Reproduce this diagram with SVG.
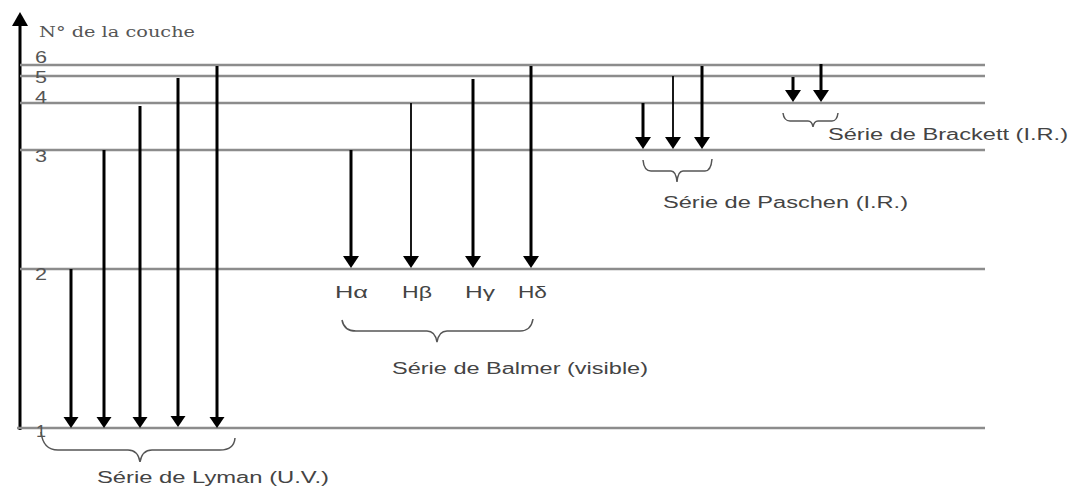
<svg xmlns="http://www.w3.org/2000/svg" width="1072" height="488" viewBox="0 0 1072 488">
  <style>
    .level { stroke: #8c8c8c; stroke-width: 2.4; fill: none; }
    .axis { stroke: #000; stroke-width: 3; fill: none; }
    .tr { stroke: #000; stroke-width: 3; fill: none; }
    .tr.thin { stroke-width: 1.8; }
    .brace { stroke: #555; stroke-width: 1.5; fill: none; }
    .lbl { font-family: "Liberation Sans", Arial, sans-serif; font-size: 16px; fill: #444; }
    .num { font-family: "Liberation Sans", Arial, sans-serif; font-size: 16px; fill: #555; }
    .title { font-family: "DejaVu Serif", "Liberation Serif", serif; font-size: 14px; fill: #555; }
  </style>
  <defs>
    <marker id="head" markerUnits="userSpaceOnUse" viewBox="0 -8 12 16" refX="0" refY="0" markerWidth="12" markerHeight="16" orient="auto">
      <path d="M0,-7.5 L11,0 L0,7.5 Z" fill="#000"/>
    </marker>
    <marker id="headL" markerUnits="userSpaceOnUse" viewBox="0 -9 13 18" refX="0" refY="0" markerWidth="13" markerHeight="18" orient="auto">
      <path d="M0,-8 L12,0 L0,8 Z" fill="#000"/>
    </marker>
  </defs>

  <rect width="1072" height="488" fill="#fff"/>

  <!-- energy axis -->
  <g id="axis">
    <line class="axis" x1="20" y1="430" x2="20" y2="24"/>
    <polygon points="20,12 12,26 28,26" fill="#000"/>
    <text class="title" x="39" y="37" textLength="156" lengthAdjust="spacingAndGlyphs">N° de la couche</text>
  </g>

  <!-- energy levels -->
  <g id="levels">
    <line class="level" x1="20" y1="65" x2="985" y2="65"/>
    <line class="level" x1="20" y1="76" x2="985" y2="76"/>
    <line class="level" x1="20" y1="103" x2="985" y2="103"/>
    <line class="level" x1="20" y1="150" x2="985" y2="150"/>
    <line class="level" x1="20" y1="269" x2="985" y2="269"/>
    <line class="level" x1="17" y1="428" x2="985" y2="428"/>
    <text class="num" x="35" y="63" textLength="12" lengthAdjust="spacingAndGlyphs">6</text>
    <text class="num" x="35" y="83" textLength="12" lengthAdjust="spacingAndGlyphs">5</text>
    <text class="num" x="35" y="103" textLength="12" lengthAdjust="spacingAndGlyphs">4</text>
    <text class="num" x="35" y="162" textLength="12" lengthAdjust="spacingAndGlyphs">3</text>
    <text class="num" x="35" y="280" textLength="12" lengthAdjust="spacingAndGlyphs">2</text>
    <text class="num" x="36" y="437" textLength="10" lengthAdjust="spacingAndGlyphs">1</text>
  </g>

  <!-- transitions -->
  <g id="connectors">
    <!-- Lyman -->
    <line class="tr" x1="71" y1="269" x2="71" y2="417" marker-end="url(#head)"/>
    <line class="tr" x1="104" y1="150" x2="104" y2="417" marker-end="url(#head)"/>
    <line class="tr" x1="140" y1="106" x2="140" y2="417" marker-end="url(#head)"/>
    <line class="tr" x1="178" y1="78" x2="178" y2="416" marker-end="url(#head)"/>
    <line class="tr" x1="217" y1="66" x2="217" y2="417" marker-end="url(#head)"/>
    <!-- Balmer -->
    <line class="tr" x1="351" y1="150" x2="351" y2="256" marker-end="url(#headL)"/>
    <line class="tr thin" x1="411" y1="103" x2="411" y2="256" marker-end="url(#headL)"/>
    <line class="tr" x1="473" y1="79" x2="473" y2="256" marker-end="url(#headL)"/>
    <line class="tr" x1="531" y1="66" x2="531" y2="256" marker-end="url(#headL)"/>
    <!-- Paschen -->
    <line class="tr" x1="643" y1="103" x2="643" y2="137" marker-end="url(#headL)"/>
    <line class="tr thin" x1="673" y1="76" x2="673" y2="137" marker-end="url(#headL)"/>
    <line class="tr" x1="702" y1="66" x2="702" y2="137" marker-end="url(#headL)"/>
    <!-- Brackett -->
    <line class="tr" x1="793" y1="77" x2="793" y2="90" marker-end="url(#headL)"/>
    <line class="tr" x1="821" y1="64" x2="821" y2="90" marker-end="url(#headL)"/>
  </g>

  <g id="lyman">
    <path class="brace" d="M41,432 Q43,450 58,450 L128,450 Q138,450 140,462 Q142,450 152,450 L220,450 Q234,450 235,438"/>
    <text class="lbl" x="97" y="483" textLength="232" lengthAdjust="spacingAndGlyphs">Série de Lyman (U.V.)</text>
  </g>

  <g id="balmer">
    <text class="lbl" x="335" y="298" textLength="33" lengthAdjust="spacingAndGlyphs">Hα</text>
    <text class="lbl" x="402" y="298" textLength="30" lengthAdjust="spacingAndGlyphs">Hβ</text>
    <text class="lbl" x="465" y="298" textLength="30" lengthAdjust="spacingAndGlyphs">Hγ</text>
    <text class="lbl" x="518" y="298" textLength="29" lengthAdjust="spacingAndGlyphs">Hδ</text>
    <path class="brace" d="M342,320 Q344,331 356,331 L427,331 Q435,331 437,342 Q439,331 447,331 L520,331 Q531,331 533,319"/>
    <text class="lbl" x="392" y="374" textLength="256" lengthAdjust="spacingAndGlyphs">Série de Balmer (visible)</text>
  </g>

  <g id="paschen">
    <path class="brace" d="M643,160 Q644,171 651,171 L671,171 Q676,171 677,182 Q678,171 683,171 L705,171 Q711,171 712,159"/>
    <text class="lbl" x="663" y="208" textLength="245" lengthAdjust="spacingAndGlyphs">Série de Paschen (I.R.)</text>
  </g>

  <g id="brackett">
    <path class="brace" d="M783,113 Q784,121 790,121 L808,121 Q812,121 813,127 Q814,121 818,121 L832,121 Q837,121 838,113"/>
    <text class="lbl" x="828" y="140" textLength="240" lengthAdjust="spacingAndGlyphs">Série de Brackett (I.R.)</text>
  </g>
</svg>
